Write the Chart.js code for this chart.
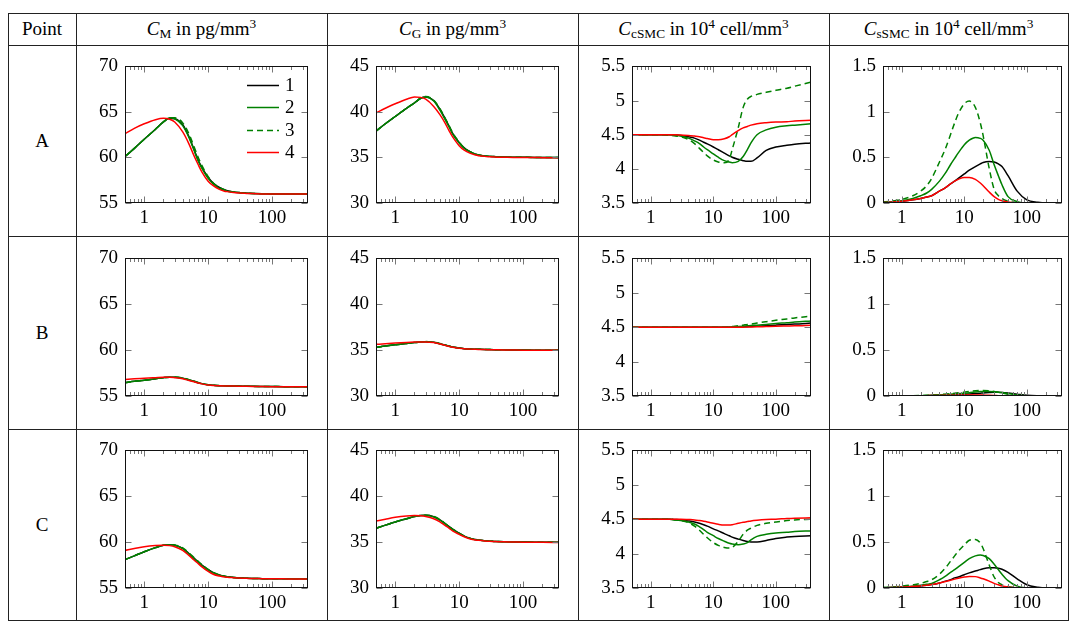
<!DOCTYPE html>
<html>
<head>
<meta charset="utf-8">
<script src="https://cdn.jsdelivr.net/npm/chart.js@4.4.0/dist/chart.umd.min.js"></script>
<style>
  body { margin: 0; background: #fff; font-family: 'Liberation Serif', serif; }
  #page { position: relative; width: 1071px; height: 622px; overflow: hidden; }
  .hl { position: absolute; height: 1px; background: #222; }
  .vl { position: absolute; width: 1px; background: #222; }
  .cell { position: absolute; font-size: 19px; color: #000; text-align: center; white-space: nowrap; }
  .cell sub, .cell sup { font-size: 0.7em; line-height: 0; }
  .cell sub { vertical-align: -0.2em; }
  .cell sup { vertical-align: 0.55em; }
  canvas { position: absolute; }
</style>
</head>
<body>
<div id="page"></div>
<script>
// time axis (days), shared by every panel
const t = [0.5, 0.7, 1, 1.5, 2, 2.5, 3, 4, 5, 6, 7, 8, 10, 12, 15, 18, 20, 25, 30, 35, 40, 50, 70, 100, 150, 200, 365];
const xTickVals = [1, 10, 100];
const xMinorVals = [0.6, 0.7, 0.8, 0.9, 2, 3, 4, 5, 6, 7, 8, 9, 20, 30, 40, 50, 60, 70, 80, 90, 200, 300];

const seriesLabels = ['1', '2', '3', '4'];
const rowLabels = ['A', 'B', 'C'];

// C_M, point A..C, series 1..4
const mA1 = [60.1, 61.0, 62.0, 63.1, 63.9, 64.3, 64.25, 63.6, 62.3, 60.9, 59.7, 58.9, 57.8, 57.2, 56.7, 56.45, 56.35, 56.2, 56.15, 56.1, 56.08, 56.05, 56.02, 56.0, 56.0, 56.0, 56.0];
const mA2 = [60.1, 61.0, 62.0, 63.1, 63.9, 64.35, 64.25, 63.5, 62.2, 60.8, 59.6, 58.8, 57.7, 57.1, 56.6, 56.4, 56.3, 56.2, 56.15, 56.1, 56.08, 56.05, 56.02, 56.0, 56.0, 56.0, 56.0];
const mA3 = [60.1, 61.0, 62.0, 63.1, 63.9, 64.35, 64.35, 63.8, 62.6, 61.2, 60.0, 59.1, 57.9, 57.2, 56.7, 56.45, 56.35, 56.2, 56.15, 56.1, 56.08, 56.05, 56.02, 56.0, 56.0, 56.0, 56.0];
const mA4 = [62.6, 63.2, 63.7, 64.15, 64.3, 64.2, 63.9, 62.8, 61.5, 60.2, 59.2, 58.4, 57.4, 56.9, 56.5, 56.3, 56.25, 56.15, 56.1, 56.08, 56.05, 56.03, 56.0, 56.0, 56.0, 56.0, 55.98];
const mB1 = [56.45, 56.6, 56.72, 56.88, 57.0, 57.05, 57.05, 56.95, 56.75, 56.6, 56.45, 56.35, 56.22, 56.17, 56.13, 56.11, 56.1, 56.09, 56.08, 56.07, 56.06, 56.05, 56.04, 56.03, 56.02, 56.01, 56.0];
const mB2 = [56.45, 56.6, 56.72, 56.88, 57.0, 57.05, 57.05, 56.95, 56.75, 56.6, 56.45, 56.35, 56.22, 56.17, 56.13, 56.11, 56.1, 56.09, 56.08, 56.07, 56.06, 56.05, 56.04, 56.03, 56.02, 56.01, 56.0];
const mB3 = [56.45, 56.6, 56.72, 56.88, 57.0, 57.05, 57.06, 56.97, 56.78, 56.62, 56.47, 56.36, 56.23, 56.17, 56.13, 56.11, 56.1, 56.09, 56.08, 56.07, 56.06, 56.05, 56.04, 56.03, 56.02, 56.01, 56.0];
const mB4 = [56.8, 56.87, 56.93, 57.0, 57.05, 57.05, 57.0, 56.88, 56.7, 56.55, 56.42, 56.32, 56.2, 56.15, 56.12, 56.1, 56.09, 56.08, 56.07, 56.06, 56.05, 56.04, 56.03, 56.02, 56.01, 56.0, 56.0];
const mC1 = [58.1, 58.5, 58.95, 59.4, 59.65, 59.72, 59.67, 59.33, 58.75, 58.25, 57.85, 57.5, 57.0, 56.68, 56.42, 56.28, 56.23, 56.15, 56.1, 56.08, 56.06, 56.04, 56.02, 56.0, 56.0, 56.0, 56.0];
const mC2 = [58.1, 58.5, 58.95, 59.4, 59.65, 59.72, 59.65, 59.3, 58.7, 58.2, 57.8, 57.45, 56.95, 56.65, 56.4, 56.27, 56.22, 56.15, 56.1, 56.08, 56.06, 56.04, 56.02, 56.0, 56.0, 56.0, 56.0];
const mC3 = [58.1, 58.5, 58.95, 59.4, 59.65, 59.73, 59.7, 59.38, 58.82, 58.32, 57.9, 57.55, 57.02, 56.7, 56.43, 56.28, 56.23, 56.15, 56.1, 56.08, 56.06, 56.04, 56.02, 56.0, 56.0, 56.0, 56.0];
const mC4 = [59.1, 59.3, 59.5, 59.63, 59.67, 59.62, 59.5, 59.1, 58.55, 58.05, 57.65, 57.3, 56.8, 56.5, 56.3, 56.2, 56.17, 56.12, 56.08, 56.06, 56.05, 56.03, 56.02, 56.0, 56.0, 55.98, 55.97];

// C_G
const gA1 = [37.9, 38.7, 39.5, 40.4, 41.0, 41.5, 41.65, 41.25, 40.3, 39.3, 38.4, 37.6, 36.65, 36.05, 35.6, 35.35, 35.27, 35.17, 35.12, 35.1, 35.08, 35.05, 35.03, 35.02, 35.0, 35.0, 35.0];
const gA2 = [37.9, 38.7, 39.5, 40.4, 41.0, 41.5, 41.65, 41.2, 40.2, 39.2, 38.3, 37.5, 36.6, 36.0, 35.6, 35.35, 35.27, 35.17, 35.12, 35.1, 35.08, 35.05, 35.03, 35.02, 35.0, 35.0, 35.0];
const gA3 = [37.9, 38.7, 39.5, 40.4, 41.0, 41.5, 41.7, 41.3, 40.35, 39.35, 38.45, 37.65, 36.7, 36.05, 35.6, 35.35, 35.27, 35.17, 35.12, 35.1, 35.08, 35.05, 35.03, 35.02, 35.0, 35.0, 35.0];
const gA4 = [39.9, 40.4, 40.9, 41.4, 41.65, 41.6, 41.4, 40.6, 39.7, 38.8, 37.9, 37.2, 36.3, 35.8, 35.45, 35.27, 35.2, 35.12, 35.08, 35.05, 35.03, 35.02, 35.0, 35.0, 35.0, 34.98, 34.96];
const gB1 = [35.3, 35.45, 35.58, 35.72, 35.83, 35.9, 35.92, 35.85, 35.7, 35.55, 35.42, 35.33, 35.22, 35.16, 35.12, 35.1, 35.09, 35.07, 35.06, 35.05, 35.04, 35.03, 35.02, 35.01, 35.0, 35.0, 35.0];
const gB2 = [35.3, 35.45, 35.58, 35.72, 35.83, 35.9, 35.92, 35.85, 35.7, 35.55, 35.42, 35.33, 35.22, 35.16, 35.12, 35.1, 35.09, 35.07, 35.06, 35.05, 35.04, 35.03, 35.02, 35.01, 35.0, 35.0, 35.0];
const gB3 = [35.3, 35.45, 35.58, 35.72, 35.83, 35.9, 35.93, 35.87, 35.72, 35.57, 35.44, 35.34, 35.23, 35.16, 35.12, 35.1, 35.09, 35.07, 35.06, 35.05, 35.04, 35.03, 35.02, 35.01, 35.0, 35.0, 35.0];
const gB4 = [35.63, 35.7, 35.77, 35.84, 35.88, 35.9, 35.9, 35.82, 35.67, 35.52, 35.4, 35.31, 35.21, 35.15, 35.11, 35.09, 35.08, 35.06, 35.05, 35.04, 35.03, 35.02, 35.01, 35.0, 35.0, 35.0, 34.99];
const gC1 = [36.5, 36.85, 37.2, 37.55, 37.8, 37.9, 37.92, 37.77, 37.43, 37.03, 36.68, 36.38, 35.97, 35.66, 35.41, 35.28, 35.22, 35.15, 35.1, 35.08, 35.06, 35.04, 35.02, 35.01, 35.0, 35.0, 35.0];
const gC2 = [36.5, 36.85, 37.2, 37.55, 37.8, 37.9, 37.92, 37.75, 37.4, 37.0, 36.65, 36.35, 35.95, 35.65, 35.4, 35.27, 35.22, 35.15, 35.1, 35.08, 35.06, 35.04, 35.02, 35.01, 35.0, 35.0, 35.0];
const gC3 = [36.5, 36.85, 37.2, 37.55, 37.8, 37.9, 37.93, 37.8, 37.46, 37.06, 36.7, 36.4, 35.98, 35.67, 35.41, 35.28, 35.22, 35.15, 35.1, 35.08, 35.06, 35.04, 35.02, 35.01, 35.0, 35.0, 35.0];
const gC4 = [37.3, 37.5, 37.7, 37.85, 37.9, 37.88, 37.8, 37.55, 37.2, 36.82, 36.5, 36.2, 35.85, 35.58, 35.35, 35.24, 35.2, 35.13, 35.09, 35.07, 35.05, 35.03, 35.02, 35.0, 35.0, 34.98, 34.97];

// C_cSMC
const cA1 = [4.5, 4.5, 4.5, 4.5, 4.5, 4.495, 4.49, 4.47, 4.45, 4.42, 4.39, 4.365, 4.32, 4.28, 4.23, 4.19, 4.17, 4.14, 4.12, 4.11, 4.11, 4.16, 4.27, 4.32, 4.345, 4.36, 4.38];
const cA2 = [4.5, 4.5, 4.5, 4.5, 4.5, 4.49, 4.48, 4.45, 4.41, 4.37, 4.32, 4.28, 4.22, 4.17, 4.12, 4.1, 4.09, 4.11, 4.18, 4.28, 4.38, 4.5, 4.57, 4.61, 4.63, 4.64, 4.66];
const cA3 = [4.5, 4.5, 4.5, 4.5, 4.49, 4.48, 4.47, 4.43, 4.37, 4.3, 4.24, 4.19, 4.13, 4.1, 4.09, 4.14, 4.28, 4.6, 4.9, 5.02, 5.06, 5.09, 5.12, 5.15, 5.18, 5.21, 5.27];
const cA4 = [4.5, 4.5, 4.5, 4.5, 4.5, 4.5, 4.495, 4.49, 4.48, 4.47, 4.455, 4.445, 4.425, 4.425, 4.44, 4.47, 4.5, 4.56, 4.6, 4.62, 4.64, 4.66, 4.675, 4.685, 4.69, 4.7, 4.71];
const cB1 = [4.5, 4.5, 4.5, 4.5, 4.5, 4.5, 4.5, 4.5, 4.5, 4.5, 4.5, 4.5, 4.5, 4.5, 4.5, 4.5, 4.5, 4.503, 4.505, 4.508, 4.51, 4.515, 4.52, 4.53, 4.54, 4.545, 4.56];
const cB2 = [4.5, 4.5, 4.5, 4.5, 4.5, 4.5, 4.5, 4.5, 4.5, 4.5, 4.5, 4.5, 4.5, 4.5, 4.5, 4.502, 4.505, 4.51, 4.515, 4.52, 4.525, 4.53, 4.54, 4.555, 4.565, 4.575, 4.59];
const cB3 = [4.5, 4.5, 4.5, 4.5, 4.5, 4.5, 4.5, 4.5, 4.5, 4.5, 4.5, 4.5, 4.5, 4.5, 4.5, 4.505, 4.51, 4.52, 4.53, 4.54, 4.545, 4.56, 4.58, 4.6, 4.62, 4.635, 4.66];
const cB4 = [4.5, 4.5, 4.5, 4.5, 4.5, 4.5, 4.5, 4.5, 4.5, 4.5, 4.5, 4.5, 4.5, 4.5, 4.5, 4.5, 4.5, 4.5, 4.5, 4.502, 4.503, 4.505, 4.51, 4.515, 4.518, 4.52, 4.53];
const cC1 = [4.5, 4.5, 4.5, 4.5, 4.5, 4.495, 4.49, 4.475, 4.46, 4.44, 4.42, 4.4, 4.36, 4.33, 4.29, 4.26, 4.24, 4.21, 4.19, 4.175, 4.17, 4.17, 4.19, 4.22, 4.24, 4.25, 4.26];
const cC2 = [4.5, 4.5, 4.5, 4.5, 4.5, 4.49, 4.48, 4.46, 4.43, 4.39, 4.35, 4.31, 4.26, 4.22, 4.18, 4.15, 4.14, 4.13, 4.14, 4.16, 4.2, 4.25, 4.28, 4.3, 4.31, 4.32, 4.33];
const cC3 = [4.5, 4.5, 4.5, 4.5, 4.5, 4.49, 4.48, 4.45, 4.4, 4.34, 4.28, 4.23, 4.16, 4.12, 4.09, 4.08, 4.09, 4.18, 4.28, 4.34, 4.37, 4.41, 4.44, 4.46, 4.48, 4.49, 4.5];
const cC4 = [4.5, 4.5, 4.5, 4.5, 4.5, 4.5, 4.5, 4.495, 4.49, 4.48, 4.47, 4.46, 4.44, 4.425, 4.415, 4.415, 4.42, 4.44, 4.455, 4.465, 4.475, 4.485, 4.495, 4.5, 4.51, 4.515, 4.52];

// C_sSMC
const sA1 = [0.005, 0.01, 0.02, 0.035, 0.05, 0.065, 0.08, 0.13, 0.17, 0.21, 0.24, 0.27, 0.32, 0.36, 0.4, 0.43, 0.445, 0.455, 0.45, 0.43, 0.4, 0.3, 0.13, 0.035, 0.008, 0, 0];
const sA2 = [0.01, 0.015, 0.025, 0.05, 0.08, 0.11, 0.15, 0.24, 0.33, 0.42, 0.49, 0.55, 0.64, 0.69, 0.72, 0.71, 0.69, 0.58, 0.42, 0.3, 0.2, 0.07, 0.015, 0, 0, 0, 0];
const sA3 = [0.01, 0.02, 0.04, 0.08, 0.13, 0.19, 0.27, 0.45, 0.6, 0.75, 0.88, 0.98, 1.09, 1.12, 1.05, 0.88, 0.74, 0.38, 0.15, 0.08, 0.05, 0.02, 0.005, 0, 0, 0, 0];
const sA4 = [0.005, 0.01, 0.02, 0.035, 0.05, 0.065, 0.08, 0.13, 0.17, 0.21, 0.24, 0.26, 0.28, 0.28, 0.26, 0.22, 0.19, 0.12, 0.07, 0.04, 0.025, 0.01, 0, 0, 0, 0, 0];
const sB1 = [0, 0, 0.001, 0.002, 0.003, 0.004, 0.005, 0.007, 0.009, 0.011, 0.013, 0.015, 0.018, 0.022, 0.027, 0.031, 0.034, 0.038, 0.04, 0.04, 0.038, 0.032, 0.02, 0.008, 0.002, 0, 0];
const sB2 = [0, 0, 0.001, 0.003, 0.004, 0.006, 0.008, 0.012, 0.016, 0.02, 0.023, 0.026, 0.03, 0.036, 0.043, 0.048, 0.05, 0.05, 0.047, 0.042, 0.037, 0.027, 0.012, 0.004, 0.001, 0, 0];
const sB3 = [0, 0, 0.002, 0.004, 0.006, 0.008, 0.01, 0.015, 0.02, 0.025, 0.03, 0.035, 0.042, 0.05, 0.057, 0.06, 0.06, 0.056, 0.05, 0.042, 0.035, 0.02, 0.008, 0.002, 0, 0, 0];
const sB4 = [0, 0, 0.001, 0.002, 0.003, 0.004, 0.005, 0.006, 0.007, 0.008, 0.009, 0.01, 0.011, 0.012, 0.012, 0.011, 0.01, 0.008, 0.006, 0.004, 0.003, 0.001, 0, 0, 0, 0, 0];
const sC1 = [0.003, 0.005, 0.01, 0.016, 0.023, 0.03, 0.037, 0.055, 0.075, 0.09, 0.11, 0.12, 0.145, 0.165, 0.185, 0.2, 0.21, 0.22, 0.22, 0.215, 0.205, 0.17, 0.1, 0.035, 0.008, 0, 0];
const sC2 = [0.005, 0.007, 0.012, 0.02, 0.03, 0.04, 0.05, 0.09, 0.13, 0.17, 0.2, 0.23, 0.28, 0.32, 0.35, 0.36, 0.355, 0.32, 0.26, 0.2, 0.15, 0.08, 0.02, 0.003, 0, 0, 0];
const sC3 = [0.005, 0.01, 0.02, 0.035, 0.05, 0.07, 0.09, 0.15, 0.22, 0.29, 0.35, 0.4, 0.47, 0.52, 0.53, 0.49, 0.43, 0.25, 0.12, 0.06, 0.035, 0.015, 0.005, 0, 0, 0, 0];
const sC4 = [0.003, 0.005, 0.01, 0.016, 0.023, 0.03, 0.037, 0.055, 0.07, 0.085, 0.097, 0.107, 0.12, 0.126, 0.124, 0.11, 0.1, 0.075, 0.05, 0.035, 0.022, 0.01, 0.002, 0, 0, 0, 0];

// y-axis ranges per column
const yRanges = [[55, 70, 5], [30, 45, 5], [3.5, 5.5, 0.5], [0, 1.5, 0.5]];

const panels = [
  [[mA1, mA2, mA3, mA4], [gA1, gA2, gA3, gA4], [cA1, cA2, cA3, cA4], [sA1, sA2, sA3, sA4]],
  [[mB1, mB2, mB3, mB4], [gB1, gB2, gB3, gB4], [cB1, cB2, cB3, cB4], [sB1, sB2, sB3, sB4]],
  [[mC1, mC2, mC3, mC4], [gC1, gC2, gC3, gC4], [cC1, cC2, cC3, cC4], [sC1, sC2, sC3, sC4]]
];

// page geometry
const colLines = [8, 76, 327, 578, 829, 1068];
const rowLines = [13, 45, 236, 429, 620];
const plotX = [[125, 308], [376, 559], [632, 811], [883, 1062]];
const plotY = [[58, 203], [250, 396], [442, 588]];
const FONT = "'Liberation Serif', serif";

Chart.defaults.font.family = FONT;

const page = document.getElementById('page');

function addDiv(cls, css, html) {
  const d = document.createElement('div');
  d.className = cls;
  Object.assign(d.style, css);
  if (html) d.innerHTML = html;
  page.appendChild(d);
  return d;
}

rowLines.forEach(y => addDiv('hl', { left: colLines[0] + 'px', top: y + 'px', width: (colLines[5] - colLines[0] + 1) + 'px' }));
colLines.forEach(x => addDiv('vl', { left: x + 'px', top: rowLines[0] + 'px', height: (rowLines[4] - rowLines[0] + 1) + 'px' }));

const headers = [
  'Point',
  '<i>C</i><sub>M</sub> in pg/mm<sup>3</sup>',
  '<i>C</i><sub>G</sub> in pg/mm<sup>3</sup>',
  '<i>C</i><sub>cSMC</sub> in 10<sup>4</sup> cell/mm<sup>3</sup>',
  '<i>C</i><sub>sSMC</sub> in 10<sup>4</sup> cell/mm<sup>3</sup>'
];
headers.forEach((h, i) => {
  addDiv('cell', {
    left: colLines[i] + 'px', width: (colLines[i + 1] - colLines[i]) + 'px',
    top: rowLines[0] + 'px', height: (rowLines[1] - rowLines[0]) + 'px',
    lineHeight: (rowLines[1] - rowLines[0]) + 'px'
  }, h);
});
rowLabels.forEach((r, i) => {
  const h = rowLines[i + 2] - rowLines[i + 1];
  addDiv('cell', {
    left: colLines[0] + 'px', width: (colLines[1] - colLines[0]) + 'px',
    top: rowLines[i + 1] + 'px', height: h + 'px', lineHeight: h + 'px'
  }, r);
});

// frame and inward ticks, pgfplots style
const frameTicks = {
  id: 'frameTicks',
  afterDraw(chart) {
    const { ctx, chartArea: a, scales: { x, y } } = chart;
    const L = Math.round(a.left) + 0.5, R = Math.round(a.right) - 0.5;
    const T = Math.round(a.top) + 0.5, B = Math.round(a.bottom) - 0.5;
    ctx.save();
    ctx.strokeStyle = '#777';
    ctx.lineWidth = 1;
    ctx.beginPath();
    const vtick = (v, len) => {
      const px = Math.round(x.getPixelForValue(v)) + 0.5;
      ctx.moveTo(px, B); ctx.lineTo(px, B - len);
      ctx.moveTo(px, T); ctx.lineTo(px, T + len);
    };
    xMinorVals.forEach(v => vtick(v, 3.5));
    xTickVals.forEach(v => vtick(v, 6));
    y.ticks.forEach(tk => {
      const py = Math.round(y.getPixelForValue(tk.value)) + 0.5;
      ctx.moveTo(L, py); ctx.lineTo(L + 6, py);
      ctx.moveTo(R, py); ctx.lineTo(R - 6, py);
    });
    ctx.stroke();
    ctx.strokeStyle = '#111';
    ctx.strokeRect(L, T, R - L, B - T);
    ctx.restore();
  }
};

// legend drawn inside the plot area (only first panel)
const keyBox = {
  id: 'keyBox',
  afterDatasetsDraw(chart, args, opts) {
    if (!opts.show) return;
    const { ctx, chartArea: a } = chart;
    const items = chart.data.datasets.slice().reverse();
    items.forEach((ds, i) => {
      const y = Math.round(a.top + opts.top + i * opts.gap) + 0.5;
      const x0 = a.left + opts.left;
      ctx.save();
      ctx.strokeStyle = ds.borderColor;
      ctx.lineWidth = ds.borderWidth;
      ctx.setLineDash(ds.borderDash || []);
      ctx.beginPath();
      ctx.moveTo(x0, y);
      ctx.lineTo(x0 + opts.len, y);
      ctx.stroke();
      ctx.restore();
      ctx.save();
      ctx.fillStyle = '#000';
      ctx.font = '19px ' + FONT;
      ctx.textBaseline = 'middle';
      ctx.fillText(ds.label, x0 + opts.len + 6, y + 1);
      ctx.restore();
    });
  }
};

const styles = [
  { color: '#000000', dash: [] },
  { color: '#008000', dash: [] },
  { color: '#008000', dash: [6, 4] },
  { color: '#ff0000', dash: [] }
];

const PAD_L = 50, PAD_T = 10, PAD_R = 10, PAD_B = 30;

function makePanel(r, c) {
  const [x0, x1] = plotX[c];
  const [y0, y1] = plotY[r];
  const cv = document.createElement('canvas');
  cv.width = (x1 - x0) + PAD_L + PAD_R;
  cv.height = (y1 - y0) + PAD_T + PAD_B;
  cv.style.left = (x0 - PAD_L) + 'px';
  cv.style.top = (y0 - PAD_T) + 'px';
  page.appendChild(cv);

  const [yMin, yMax, yStep] = yRanges[c];
  const vals = panels[r][c];
  // draw order: dataset 0 ends on top, so series 4 (red) goes first
  const datasets = [3, 2, 1, 0].map(k => ({
    label: seriesLabels[k],
    data: t.map((tv, i) => ({ x: tv, y: vals[k][i] })),
    borderColor: styles[k].color,
    borderDash: styles[k].dash,
    borderWidth: 1.5,
    pointRadius: 0,
    fill: false,
    cubicInterpolationMode: 'monotone'
  }));

  new Chart(cv, {
    type: 'line',
    data: { datasets },
    options: {
      responsive: false,
      animation: false,
      layout: { padding: { left: 0, top: PAD_T, right: PAD_R, bottom: 0 } },
      scales: {
        x: {
          type: 'logarithmic', min: 0.5, max: 365,
          grid: { display: false, drawTicks: false },
          border: { display: false },
          afterBuildTicks: s => { s.ticks = xTickVals.map(v => ({ value: v })); },
          afterFit: s => { s.height = PAD_B; },
          ticks: {
            color: '#000', padding: 4, maxRotation: 0, autoSkip: false,
            font: { family: FONT, size: 19 },
            callback: v => String(v)
          }
        },
        y: {
          min: yMin, max: yMax,
          grid: { display: false, drawTicks: false },
          border: { display: false },
          afterFit: s => { s.width = PAD_L; },
          ticks: {
            stepSize: yStep, color: '#000', padding: 7,
            font: { family: FONT, size: 19 },
            callback: v => String(v)
          }
        }
      },
      plugins: {
        legend: { display: false },
        tooltip: { enabled: false },
        keyBox: { show: r === 0 && c === 0, left: 122, top: 18.5, gap: 22.5, len: 32 }
      }
    },
    plugins: [frameTicks, keyBox]
  });
}

function build() {
  for (let r = 0; r < 3; r++) {
    for (let c = 0; c < 4; c++) makePanel(r, c);
  }
}

// make sure the serif face is ready before the canvases draw text
document.fonts.load("19px 'Liberation Serif'").then(build, build);
</script>
</body>
</html>
